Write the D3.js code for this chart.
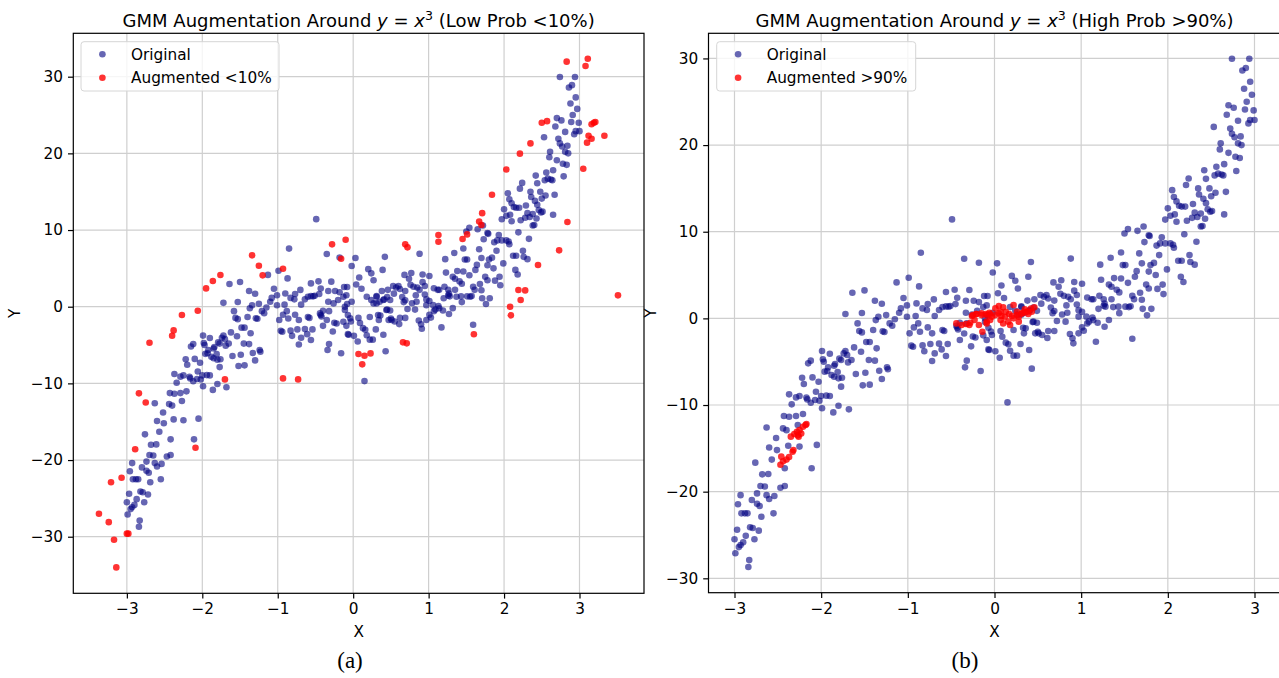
<!DOCTYPE html>
<html>
<head>
<meta charset="utf-8">
<script src="https://cdn.jsdelivr.net/npm/d3@7"></script>
<style>
  body { margin: 0; padding: 0; background: #fff; }
</style>
</head>
<body>
<script>
// ---- data ----------------------------------------------------------------

// original samples around y = x^3 (same cloud in both panels)
var original = [
  [-0.49,11.42],[-0.85,7.58],[-0.35,6.88],[-0.18,6.42],[-0.99,4.69],[-1.13,4.15],[-0.87,3.69],[-1.64,2.96],
  [-1.50,3.23],[-0.56,3.04],[-0.46,3.31],[-0.29,3.27],[-1.38,2.04],[-1.30,1.69],[-1.05,2.35],[-1.01,1.50],
  [-1.08,1.15],[-0.90,1.73],[-0.77,1.65],[-0.70,2.19],[-0.83,1.15],[-0.78,0.96],[-0.64,0.96],[-0.51,1.42],
  [-0.45,1.65],[-0.43,2.38],[-0.33,2.04],[-0.24,2.04],[-0.18,1.88],[-0.12,2.58],[-0.08,2.58],[-0.09,1.50],
  [-1.72,0.50],[-1.53,0.62],[-1.34,0.19],[-1.25,0.38],[-1.10,0.65],[-1.01,0.19],[-0.91,0.27],[-0.69,0.27],
  [-0.53,1.35],[-0.56,1.38],[-0.60,1.30],
  [2.74,29.96],[2.94,29.96],[2.86,28.6],[2.90,28.9],[2.95,27.3],[2.88,26.5],[2.97,25.8],[2.70,24.6],
  [2.76,24.3],[2.91,25.0],[2.89,24.1],[2.99,24.0],[2.68,23.5],[2.81,22.8],[2.93,22.5],[2.95,22.9],
  [3.00,22.9],[2.53,22.1],[2.72,21.9],[2.74,21.3],[2.77,20.9],[2.84,21.0],[2.81,20.2],[2.85,20.0],
  [2.61,20.2],[2.60,19.5],[2.70,19.1],[2.78,18.65],[2.83,18.5],[2.65,17.8],[2.56,17.5],[2.42,17.1],
  [2.79,17.0],[2.54,16.5],[2.58,16.7],[2.62,16.6],[2.64,16.5],[2.24,16.15],[2.44,16.1],[2.21,15.4],
  [2.35,15.0],[2.48,15.0],[2.05,14.8],[2.67,14.6],[2.55,14.5],[2.36,14.3],[2.50,14.1],[2.07,14.0],
  [2.41,13.8],[2.10,13.5],[2.44,13.3],[2.29,13.2],[2.13,13.0],[2.16,12.9],[2.20,12.9],[2.00,12.7],
  [2.46,12.6],[2.51,12.4],[2.49,12.3],[2.31,12.2],[2.38,12.1],[2.08,12.0],[2.03,11.85],[2.65,12.0],
  [2.34,11.7],[2.28,11.6],[1.97,11.4],[2.10,11.15],[2.22,11.27],[2.43,11.5],[2.38,10.6],[2.40,10.65],
  [1.50,9.8],[1.54,10.3],[1.65,10.1],[1.72,10.6],[1.78,9.6],[1.79,9.5],[2.19,9.7],[1.93,9.35],
  [1.73,8.8],[1.87,8.4],[1.91,8.65],[1.97,8.65],[2.03,8.65],[2.06,8.5],[2.33,8.85],[2.07,8.15],
  [1.46,7.6],[1.67,7.5],[1.90,7.3],[2.25,7.3],[1.34,7.0],[0.88,6.9],[0.42,6.5],[0.03,6.35],
  [1.22,6.2],[1.48,6.15],[1.51,6.15],[1.70,6.35],[1.84,6.4],[1.80,6.15],[2.12,6.65],[2.16,6.65],
  [2.26,6.5],[2.31,6.2],[1.99,5.65],[1.64,5.45],[1.78,5.4],[1.86,5.0],[-0.02,5.3],[0.39,4.8],
  [0.20,4.9],[0.24,4.35],[1.23,4.45],[1.38,4.65],[1.46,4.6],[1.62,4.8],[1.54,4.1],[2.15,4.8],
  [2.18,4.2],[0.68,4.15],[0.77,4.4],[0.92,4.2],[1.01,4.0],[0.74,3.65],[0.08,3.8],[0.27,3.45],
  [1.32,3.9],[1.35,3.65],[1.41,3.3],[1.44,3.0],[1.75,3.9],[1.78,3.45],[1.88,3.4],[1.94,3.9],
  [1.95,2.8],[1.68,2.95],[1.59,2.6],[1.61,2.2],[1.70,2.15],[1.21,2.6],[1.26,2.2],[1.27,1.7],
  [1.35,2.2],[1.37,1.3],[1.43,1.35],[1.51,1.35],[1.55,1.3],[1.57,1.4],[1.71,1.1],[1.81,1.1],
  [1.76,0.35],[1.44,0.6],[1.07,2.4],[1.12,2.2],[1.14,2.2],[0.95,1.6],[0.92,3.2],[0.95,2.7],
  [0.85,2.5],[0.88,2.2],[0.76,2.85],[0.80,2.6],[0.83,1.5],[0.69,2.05],[0.62,2.3],[0.57,2.5],
  [0.60,2.7],[0.53,2.7],[0.54,1.7],[0.65,1.25],[0.69,0.85],[0.84,0.65],[0.78,0.45],[0.97,0.95],
  [1.01,0.75],[1.20,1.1],[1.26,1.45],[1.28,1.35],[0.97,0.2],[1.06,0.2],[1.13,0.1],[0.46,2.2],
  [0.38,2.05],[0.31,1.4],[0.45,1.25],[0.41,0.95],[0.67,0.6],[0.11,2.35],[0.04,2.9],
  [-1.58,-0.58],[-1.56,-1.46],[-1.53,-1.62],[-1.40,-1.35],[-1.27,-1.58],[-1.29,-1.50],[-1.21,-0.58],[-1.18,-0.85],
  [-1.15,-0.1],[-0.98,-1.73],[-0.93,-1.04],[-0.88,-0.58],[-0.86,-1.54],[-0.77,-1.04],[-0.72,-1.73],[-0.60,-1.35],
  [-0.58,-1.46],[-0.96,-3.15],[-0.94,-3.27],[-0.83,-3.12],[-0.74,-2.96],[-0.64,-2.92],[-0.54,-2.96],[-0.81,-3.8],
  [-0.69,-4.04],[-0.61,-3.58],[-0.56,-4.35],[-0.72,-4.92],[-0.42,-1.27],[-0.40,-2.5],[-0.32,-0.58],[-0.27,-3.23],
  [-0.32,-4.88],[-0.34,-5.65],[-0.16,-6.08],[-0.07,-3.58],[-0.25,-2.1],[-0.22,-2.2],[-0.13,-1.96],[-1.72,-3.77],
  [-1.62,-3.35],[-1.48,-2.73],[-1.44,-2.73],[-1.36,-3.46],[-1.54,-3.85],[-1.45,-4.81],[-1.38,-4.88],[-1.33,-6.04],
  [-1.24,-5.65],[-1.23,-5.88],[-1.30,-7.0],[-1.49,-6.27],[-1.60,-6.42],[-1.44,-7.65],[-1.52,-7.73],[-1.69,-5.08],
  [-1.65,-4.81],[-1.74,-4.04],[-1.70,-4.23],[-1.79,-4.65],[-1.77,-4.81],[-1.84,-5.27],[-1.85,-5.46],[-1.81,-6.19],
  [-1.80,-6.92],[-1.76,-6.85],[-1.85,-6.73],[-1.88,-6.54],[-1.77,-7.88],[-1.68,-10.5],[-1.93,-6.08],[-1.92,-5.65],
  [-1.96,-6.15],[-1.97,-5.0],[-1.98,-4.73],[-1.90,-4.08],[-1.99,-3.77],[-2.03,-7.31],[-2.06,-8.46],[-2.10,-6.81],
  [-2.12,-4.88],[-2.15,-5.19],[-2.22,-6.85],[-2.20,-7.58],[-2.00,-8.96],[-1.99,-10.38],[-2.07,-9.42],[-2.12,-9.73],
  [-2.17,-9.15],[-2.16,-9.35],[-2.25,-8.96],[-2.29,-9.12],[-2.34,-9.92],[-2.37,-8.77],[-1.94,-8.92],[-1.90,-8.96],
  [-1.86,-10.85],[-1.80,-10.08],[-2.02,-9.5],[-2.43,-11.27],[-2.37,-11.35],[-2.29,-11.27],[-2.21,-11.04],[-2.27,-12.3],
  [-2.44,-12.7],[-2.40,-12.9],[-2.52,-13.8],[-2.63,-12.6],[-2.05,-14.6],[-2.11,-17.3],[-2.25,-14.8],[-2.38,-14.7],
  [-2.51,-15.2],[-2.60,-14.9],[-2.57,-16.3],[-2.42,-17.3],[-2.68,-18.0],[-2.61,-17.96],[-2.76,-16.65],[-2.65,-19.4],
  [-2.70,-19.35],[-2.74,-20.2],[-2.42,-19.35],[-2.47,-19.54],[-2.54,-20.5],[-2.60,-20.85],[-2.63,-20.4],[-2.74,-21.4],
  [-2.71,-21.65],[-2.80,-20.96],[-2.55,-22.5],[-2.69,-22.9],[-2.93,-20.4],[-2.96,-21.46],[-2.92,-22.5],[-2.88,-22.5],
  [-2.85,-22.5],[-2.82,-24.1],[-2.79,-24.2],[-2.72,-24.5],[-2.97,-24.4],[-2.87,-25.1],[-2.77,-25.5],[-3.00,-25.5],
  [-2.90,-25.85],[-2.93,-26.15],[-2.95,-26.4],[-2.99,-27.1],[-2.83,-27.9],[-2.84,-28.7],[-1.37,-0.2],
  [-0.03,-1.92],[-0.09,-2.5],[-0.06,-3.65],[0.01,-3.8],[0.06,-4.54],[0.07,-1.46],[0.09,-2.12],[0.13,-2.8],
  [0.16,-3.0],[0.18,-3.73],[0.22,-4.3],[0.26,-4.3],[0.22,-1.35],[0.30,-2.96],[0.34,-1.73],[0.36,-1.15],
  [0.40,-3.65],[0.43,-5.8],[0.15,-9.7],[0.45,-0.38],[0.49,-0.5],[0.47,-1.73],[0.50,-1.54],[0.51,-1.73],
  [0.55,-1.92],[0.61,-2.27],[0.62,-1.46],[0.69,-1.46],[0.72,-0.3],[0.82,-0.38],[0.87,-1.8],[0.90,-2.3],
  [0.91,-2.88],[0.97,-1.73],[1.01,-1.04],[1.03,-1.42],[1.07,-0.58],[1.09,-0.38],[1.14,-0.2],[1.17,-2.7],
  [1.19,-0.5],[1.27,-0.96],[1.32,-0.19],[1.59,-2.35],
  [-0.11,-0.43],[-0.07,-1.09],[-0.04,-1.52],[0.27,0.43],[0.31,0.43],[0.35,0.65],[0.33,-1.09],[0.44,-0.43],
  [0.18,1.3],[0.24,0.87],[0.31,1.3],[0.40,0.87],[0.49,0.87],[-0.33,0.65],[-0.26,0.43],[-0.20,0.87],
  [-0.13,1.3],[-0.08,0.35],[-0.02,0.65],[-0.40,-0.52],[-0.44,-0.87],[-0.35,-1.74],[-0.11,0.0],[-0.43,-1.09]
];

// GMM samples with low probability (<10%), left panel
var augLow = [
  [-2.27,-1.09],[-2.06,-0.52],[-1.95,2.39],[-1.86,3.35],[-1.76,4.13],[-1.34,6.70],[-1.25,5.35],[-1.20,4.09],
  [-0.93,4.96],[-0.28,8.13],[-0.16,6.26],[-0.10,8.74],[2.83,31.96],[3.11,32.35],[3.08,31.4],[2.50,24.0],
  [2.57,24.2],[3.16,23.8],[3.19,24.0],[3.21,24.1],[3.12,22.3],[3.16,21.9],[3.10,21.4],[3.33,22.3],
  [2.35,21.3],[2.21,19.96],[2.03,17.9],[3.05,18.0],[1.84,14.6],[1.71,12.2],[1.67,11.1],[1.70,10.65],
  [1.51,9.43],[1.45,8.83],[1.13,9.35],[1.13,8.48],[0.69,8.13],[0.72,7.74],[2.84,11.04],[2.73,7.35],
  [2.45,5.43],[2.19,2.17],[2.28,2.13],[2.22,0.87],[2.08,0.0],[2.09,-1.13],[3.51,1.48],[1.60,-3.6],
  [0.66,-4.65],[0.71,-4.78],[0.07,-6.17],[0.15,-6.39],[0.23,-6.09],[0.12,-7.52],[-2.38,-3.09],[-2.40,-3.78],
  [-2.70,-4.7],[-2.84,-11.3],[-2.75,-12.5],[-2.89,-18.6],[-3.07,-22.3],[-3.21,-22.9],[-3.37,-27.0],[-3.24,-28.1],
  [-3.17,-30.4],[-3.14,-34.0],[-3.00,-29.6],[-2.98,-29.6],[-2.09,-18.4],[-1.70,-9.48],[-0.93,-9.35],[-0.73,-9.48]
];

// GMM samples with high probability (>90%), right panel
var augHigh = [
  [-2.46,-15.96],[-2.47,-16.9],[-2.44,-16.5],[-2.40,-16.3],[-2.37,-16.0],[-2.33,-15.4],[-2.32,-15.2],[-2.35,-13.65],
  [-2.31,-13.35],[-2.28,-13.1],[-2.25,-12.9],[-2.23,-13.3],[-2.26,-13.65],[-2.21,-12.5],[-2.18,-12.3],[-2.17,-12.2],
  [-2.27,-13.5],
  [-0.05,0.5],[0.01,1.15],[0.05,1.42],[0.10,1.27],[0.13,0.77],[0.17,0.5],[0.22,1.54],[0.26,0.77],
  [0.32,0.58],[0.35,1.04],[0.38,0.77],[0.42,1.12],[0.46,1.27],[-0.03,0.19],[0.08,0.27],[0.20,0.27],
  [0.28,0.19],[0.07,0.77],[-0.09,-0.38],[-0.05,-0.19],[0.01,0.38],[0.05,0.58],[0.07,-0.19],[0.10,-0.58],
  [0.16,-0.38],[0.22,0.0],[0.26,0.38],[0.32,0.58],[0.35,0.77],[0.39,0.5],[0.43,0.77],[0.18,-0.77],
  [0.12,0.19],[0.28,-0.38],[-0.44,-0.58],[-0.38,-0.77],[-0.33,-0.65],[-0.28,-0.5],[-0.25,0.38],[-0.21,0.5],
  [-0.15,0.38],[-0.10,0.5],[-0.09,-0.58],[-0.23,-0.19],[-0.14,-1.54],[-0.18,-0.77],[-0.29,-0.77],[-0.26,0.27],
  [-0.21,0.5],[-0.15,0.58],[-0.09,0.38],[-0.06,0.65]
];

var xTicks = [-3, -2, -1, 0, 1, 2, 3];
var yTicks = [-30, -20, -10, 0, 10, 20, 30];

// ---- drawing ------------------------------------------------------------

var W = 1279, H = 678;
var SANS = "DejaVu Sans, sans-serif";
var FS = "15.3px";          // ticks, legend, axis labels
var svg = d3.select("body").append("svg")
  .attr("width", W).attr("height", H)
  .attr("viewBox", "0 0 " + W + " " + H);

svg.append("rect").attr("width", W).attr("height", H).attr("fill", "#fff");

var fmt = d3.format("d");   // d3 v7 already uses the unicode minus

function drawPanel(p) {
  var g = svg.append("g").style("font-family", SANS);

  var x = d3.scaleLinear().domain(p.xDomain).range([p.left, p.right]);
  var y = d3.scaleLinear().domain(p.yDomain).range([p.bottom, p.top]);

  var clipId = "clip-" + p.id;
  g.append("clipPath").attr("id", clipId)
    .append("rect")
    .attr("x", p.left).attr("y", p.top)
    .attr("width", p.right - p.left).attr("height", p.bottom - p.top);

  var inner = g.append("g").attr("clip-path", "url(#" + clipId + ")");

  // grid
  inner.selectAll(".gx").data(xTicks).enter().append("line")
    .attr("x1", function (d) { return x(d); }).attr("x2", function (d) { return x(d); })
    .attr("y1", p.top).attr("y2", p.bottom)
    .attr("stroke", "#cfcfcf").attr("stroke-width", 1.2);
  inner.selectAll(".gy").data(yTicks).enter().append("line")
    .attr("y1", function (d) { return y(d); }).attr("y2", function (d) { return y(d); })
    .attr("x1", p.left).attr("x2", p.right)
    .attr("stroke", "#cfcfcf").attr("stroke-width", 1.2);

  // points
  inner.selectAll(".orig").data(original).enter().append("circle")
    .attr("cx", function (d) { return x(d[0]); })
    .attr("cy", function (d) { return y(d[1]); })
    .attr("r", 3.3)
    .attr("fill", "navy").attr("fill-opacity", 0.6);

  inner.selectAll(".aug").data(p.aug).enter().append("circle")
    .attr("cx", function (d) { return x(d[0]); })
    .attr("cy", function (d) { return y(d[1]); })
    .attr("r", 3.3)
    .attr("fill", "red").attr("fill-opacity", 0.8);

  // axes
  var xAxis = g.append("g").attr("transform", "translate(0," + p.bottom + ")")
    .call(d3.axisBottom(x).tickValues(xTicks).tickFormat(fmt).tickSize(5.3).tickPadding(5));
  var yAxis = g.append("g").attr("transform", "translate(" + p.left + ",0)")
    .call(d3.axisLeft(y).tickValues(yTicks).tickFormat(fmt).tickSize(5.3).tickPadding(5));
  [xAxis, yAxis].forEach(function (a) {
    a.select(".domain").remove();
    a.selectAll("line").attr("stroke", "#000").attr("stroke-width", 1.2);
    a.selectAll("text").style("font-family", SANS).style("font-size", FS).attr("fill", "#000");
  });

  // frame
  g.append("rect")
    .attr("x", p.left).attr("y", p.top)
    .attr("width", p.right - p.left).attr("height", p.bottom - p.top)
    .attr("fill", "none").attr("stroke", "#000").attr("stroke-width", 1.2);

  // title  "GMM Augmentation Around y = x^3 (...)"
  var cx = (p.left + p.right) / 2;
  var t = g.append("text").attr("x", cx).attr("y", 27)
    .attr("text-anchor", "middle").style("font-size", "18px").attr("fill", "#000");
  t.append("tspan").text("GMM Augmentation Around ");
  t.append("tspan").style("font-style", "italic").text("y");
  t.append("tspan").text(" = ");
  t.append("tspan").style("font-style", "italic").text("x");
  t.append("tspan").style("font-size", "12.6px").attr("dy", "-7.5").text("3");
  t.append("tspan").attr("dy", "7.5").text(" " + p.titleTail);

  // axis labels
  g.append("text").attr("x", cx).attr("y", 637)
    .attr("text-anchor", "middle").style("font-size", FS).text("X");
  g.append("text")
    .attr("transform", "translate(" + p.yLabelX + "," + ((p.top + p.bottom) / 2) + ") rotate(-90)")
    .attr("text-anchor", "middle").style("font-size", FS).text("Y");

  // legend
  var lg = g.append("g").attr("transform", "translate(" + p.legendX + ",41.7)");
  lg.append("rect").attr("width", p.legendW).attr("height", 49.3).attr("rx", 3)
    .attr("fill", "#fff").attr("fill-opacity", 0.8)
    .attr("stroke", "#d6d6d6").attr("stroke-width", 1);
  var items = [
    { label: "Original", color: "navy", op: 0.6 },
    { label: p.augLabel, color: "red", op: 0.8 }
  ];
  items.forEach(function (it, i) {
    lg.append("circle").attr("cx", 21.4).attr("cy", 12.6 + i * 23.4).attr("r", 3.3)
      .attr("fill", it.color).attr("fill-opacity", it.op);
    lg.append("text").attr("x", 50).attr("y", 18 + i * 23.4)
      .style("font-size", FS).attr("fill", "#000").text(it.label);
  });

  // caption under the subfigure
  svg.append("text").attr("x", p.captionX).attr("y", 668)
    .attr("text-anchor", "middle")
    .style("font-family", "Liberation Serif, serif").style("font-size", "23px")
    .text(p.caption);
}

// right panel first, the left image sits on top of its y label edge
drawPanel({
  id: "b", left: 708.5, right: 1280.5, top: 33.3, bottom: 592.7,
  xDomain: [-3.3, 3.3], yDomain: [-31.66, 32.9],
  aug: augHigh, augLabel: "Augmented >90%", titleTail: "(High Prob >90%)",
  legendX: 716.7, legendW: 199, yLabelX: 656, captionX: 965, caption: "(b)"
});

drawPanel({
  id: "a", left: 73.3, right: 644, top: 33.3, bottom: 593.3,
  xDomain: [-3.71, 3.855], yDomain: [-37.38, 35.66],
  aug: augLow, augLabel: "Augmented <10%", titleTail: "(Low Prob <10%)",
  legendX: 81, legendW: 198, yLabelX: 19.5, captionX: 350, caption: "(a)"
});
</script>
</body>
</html>
